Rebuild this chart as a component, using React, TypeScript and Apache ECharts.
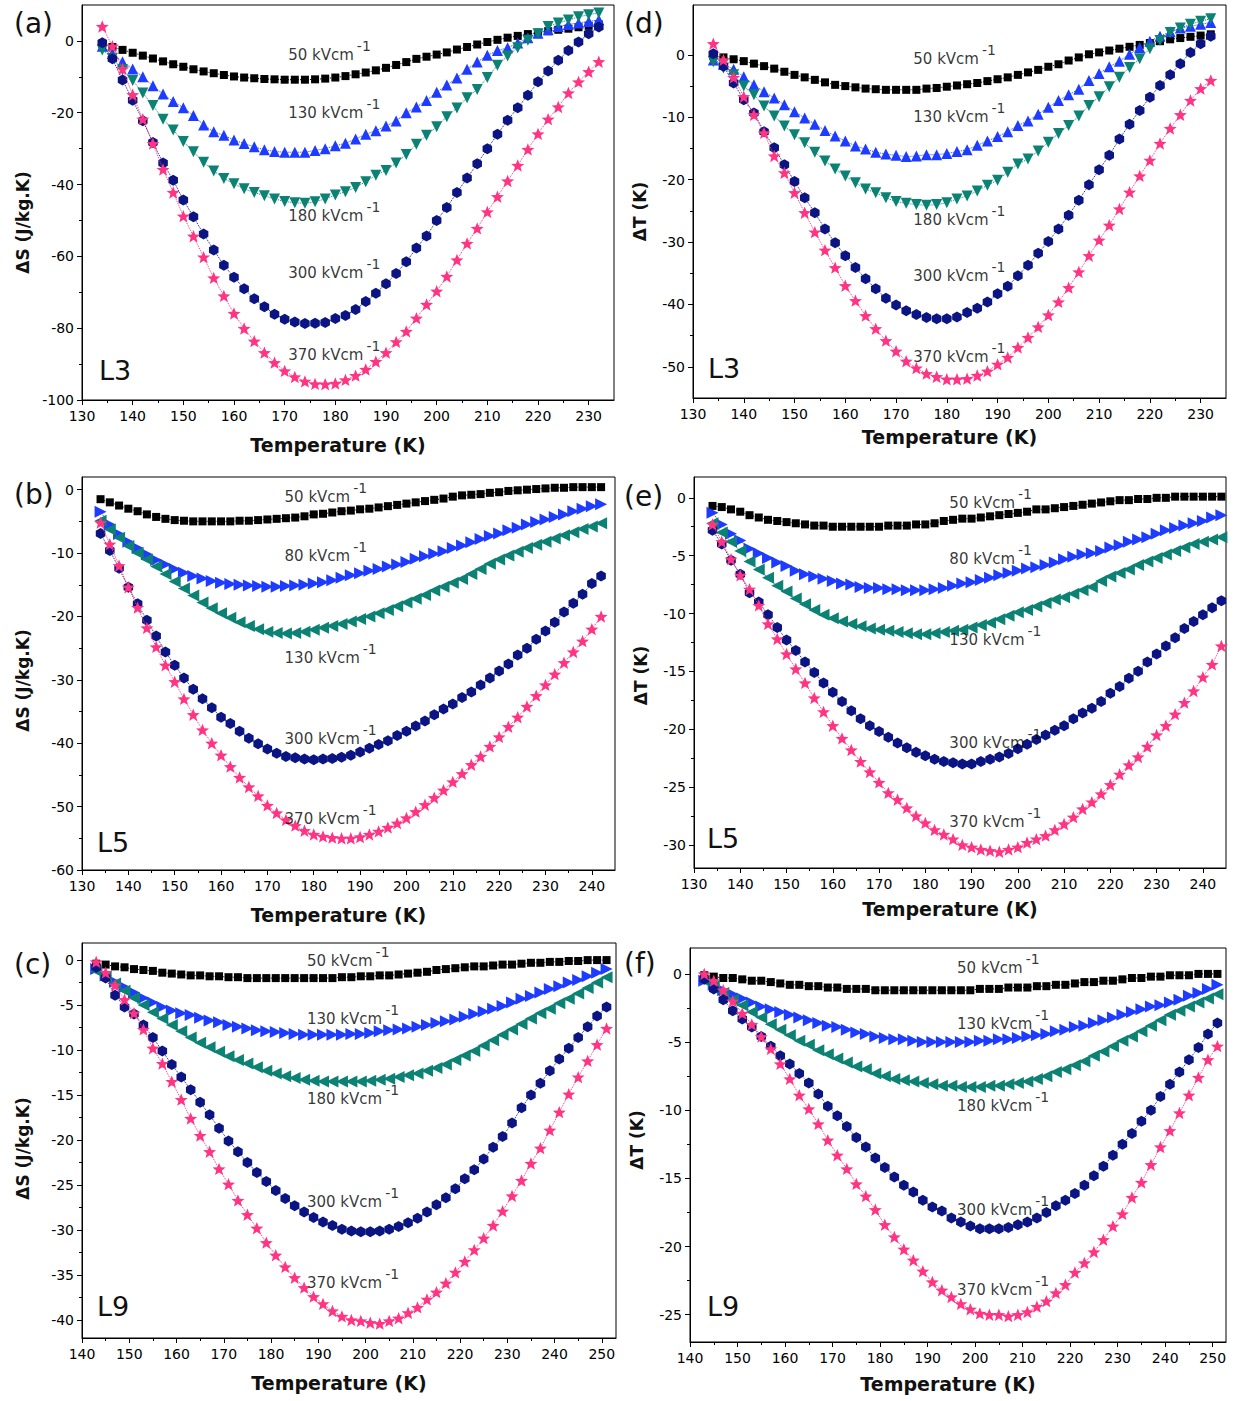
import React, { useEffect, useRef } from "react";
import * as echarts from "echarts";

// ---------- temperature grids (K) ----------
const steps = (start: number, count: number, step: number) =>
  Array.from({ length: count }, (_, i) => start + i * step);

const T_L3 = steps(134, 50, 2); // 134 … 232
const T_L5_S = steps(134, 55, 2); // 134 … 242
const T_L5_T = steps(134, 56, 2); // 134 … 244
const T_L9 = steps(143, 55, 2); // 143 … 251

// ---------- tick labels ----------
const xTicksL3 = [130, 140, 150, 160, 170, 180, 190, 200, 210, 220, 230];
const xTicksL5 = [130, 140, 150, 160, 170, 180, 190, 200, 210, 220, 230, 240];
const xTicksL9 = [140, 150, 160, 170, 180, 190, 200, 210, 220, 230, 240, 250];
const yTicksA = [-100, -80, -60, -40, -20, 0];
const yTicksD = [-50, -40, -30, -20, -10, 0];
const yTicksB = [-60, -50, -40, -30, -20, -10, 0];
const yTicksE = [-30, -25, -20, -15, -10, -5, 0];
const yTicksC = [-40, -35, -30, -25, -20, -15, -10, -5, 0];
const yTicksF = [-25, -20, -15, -10, -5, 0];

// ---------- L3 : entropy change ΔS (J/kg.K) ----------
const dS_L3_50 = [-0.8,-1.7,-2.5,-3.3,-4.1,-4.9,-5.7,-6.5,-7.2,-7.9,-8.5,-9.0,-9.5,-9.9,-10.2,-10.4,-10.6,-10.7,-10.8,-10.8,-10.8,-10.7,-10.5,-10.2,-9.8,-9.3,-8.8,-8.2,-7.5,-6.7,-5.9,-5.0,-4.4,-3.8,-3.2,-2.4,-1.7,-1.0,-0.3,0.3,0.9,1.4,1.9,2.3,2.7,3.1,3.4,3.8,4.2,4.6];
const dS_L3_130 = [-1.5,-3.5,-5.8,-7.8,-10.0,-12.5,-14.8,-16.9,-18.6,-20.8,-23.4,-25.3,-26.3,-27.6,-28.6,-29.5,-30.3,-30.8,-31.0,-31.0,-31.0,-30.5,-30.0,-29.2,-28.5,-27.3,-26.0,-25.0,-23.7,-22.3,-20.0,-18.4,-16.6,-14.3,-12.3,-10.3,-7.9,-5.9,-4.0,-2.7,-1.9,-0.6,0.9,2.1,3.1,4.0,4.6,5.0,5.4,5.9];
const dS_L3_180 = [-2.5,-4.8,-8.0,-11.0,-14.5,-18.0,-21.8,-24.8,-28.0,-30.9,-33.8,-36.2,-38.3,-39.8,-41.2,-42.2,-43.1,-44.0,-44.7,-45.1,-45.2,-44.8,-44.0,-42.9,-42.0,-40.8,-39.2,-37.4,-36.1,-34.0,-31.6,-28.8,-26.3,-23.9,-21.1,-18.7,-15.8,-13.5,-10.2,-6.8,-4.2,-1.9,0.2,2.0,4.0,5.0,5.8,6.7,7.3,7.8];
const dS_L3_300 = [-0.5,-5.0,-10.9,-16.5,-22.2,-28.3,-34.0,-38.8,-44.3,-49.0,-53.8,-58.2,-62.5,-65.8,-69.0,-71.8,-74.0,-76.1,-77.5,-78.3,-78.7,-78.6,-78.4,-77.3,-76.5,-74.8,-72.6,-70.3,-67.6,-64.8,-61.5,-57.7,-54.3,-50.0,-46.4,-42.2,-38.2,-34.2,-30.0,-26.0,-22.1,-18.6,-15.1,-11.4,-8.4,-5.4,-2.7,-0.3,2.0,3.9];
const dS_L3_370 = [4.0,-1.5,-7.8,-15.0,-21.8,-28.6,-35.8,-42.2,-48.8,-54.4,-60.2,-66.0,-71.0,-75.9,-80.1,-83.6,-86.8,-89.6,-91.9,-93.6,-94.8,-95.5,-95.6,-95.4,-94.4,-93.2,-91.5,-89.3,-86.8,-83.8,-80.9,-77.2,-73.4,-69.7,-65.6,-61.0,-56.4,-52.2,-47.6,-43.4,-39.0,-34.7,-30.2,-25.9,-21.8,-18.4,-14.5,-11.4,-8.6,-5.8];

// ---------- L3 : temperature change ΔT (K) ----------
const dT_L3_50 = [-0.2,-0.4,-0.7,-1.0,-1.4,-1.8,-2.2,-2.7,-3.2,-3.6,-4.0,-4.4,-4.8,-5.0,-5.2,-5.4,-5.5,-5.6,-5.6,-5.6,-5.6,-5.4,-5.3,-5.1,-4.9,-4.7,-4.5,-4.2,-3.9,-3.6,-3.2,-2.8,-2.4,-1.9,-1.5,-0.9,-0.4,0.1,0.4,0.7,1.0,1.3,1.6,1.9,2.2,2.5,2.7,2.9,3.1,3.3];
const dT_L3_130 = [-0.8,-1.5,-2.3,-3.5,-4.8,-5.9,-6.9,-8.0,-9.1,-10.1,-11.1,-12.1,-13.0,-13.8,-14.6,-15.1,-15.6,-15.9,-16.1,-16.3,-16.2,-16.0,-16.0,-15.8,-15.5,-15.2,-14.5,-13.8,-13.1,-12.3,-11.3,-10.6,-9.5,-8.4,-7.3,-6.4,-5.5,-4.1,-3.0,-1.9,-1.0,0.1,1.2,2.2,3.0,3.7,4.3,4.6,4.9,5.2];
const dT_L3_180 = [-1.1,-2.1,-3.2,-5.0,-6.4,-8.2,-9.8,-11.4,-12.8,-14.1,-15.6,-17.0,-18.3,-19.4,-20.5,-21.5,-22.1,-22.9,-23.5,-23.8,-24.0,-24.1,-24.0,-23.7,-23.1,-22.6,-21.8,-20.9,-20.1,-18.8,-17.5,-16.7,-15.4,-14.0,-12.6,-11.3,-9.8,-8.1,-6.7,-5.1,-3.6,-2.0,-0.6,1.0,2.3,3.6,4.3,4.9,5.4,5.8];
const dT_L3_300 = [0.2,-1.8,-4.5,-7.2,-9.3,-12.3,-14.9,-17.6,-20.3,-22.9,-25.3,-27.9,-30.1,-32.2,-34.1,-35.9,-37.5,-39.0,-40.1,-41.0,-41.6,-42.1,-42.3,-42.3,-42.0,-41.3,-40.6,-39.6,-38.3,-37.1,-35.4,-33.7,-31.8,-29.9,-27.9,-25.7,-23.3,-20.8,-18.4,-16.1,-13.5,-11.1,-8.9,-6.8,-4.9,-3.2,-1.4,0.4,1.8,3.0];
const dT_L3_370 = [1.8,-0.8,-3.6,-6.7,-9.6,-12.5,-16.2,-18.9,-22.1,-25.3,-28.4,-31.3,-34.1,-37.0,-39.4,-41.8,-43.9,-45.8,-47.5,-49.1,-50.2,-51.1,-51.6,-52.0,-52.0,-51.9,-51.4,-50.7,-49.6,-48.5,-46.9,-45.3,-43.6,-41.7,-39.6,-37.3,-34.8,-32.2,-29.7,-27.3,-24.7,-22.0,-19.4,-16.9,-14.2,-11.8,-9.6,-7.3,-5.4,-4.1];

// ---------- L5 : ΔS ----------
const dS_L5_50 = [-1.5,-2.0,-2.5,-3.0,-3.4,-3.9,-4.3,-4.6,-4.8,-4.9,-5.0,-5.0,-5.0,-5.0,-5.0,-4.9,-4.9,-4.8,-4.7,-4.6,-4.5,-4.4,-4.2,-3.9,-3.8,-3.6,-3.4,-3.3,-3.1,-3.0,-2.8,-2.6,-2.4,-2.2,-2.0,-1.8,-1.6,-1.4,-1.1,-0.9,-0.8,-0.7,-0.5,-0.4,-0.2,-0.1,0.0,0.1,0.2,0.3,0.3,0.4,0.4,0.4,0.4];
const dS_L5_80 = [-3.5,-5.5,-7.0,-8.2,-9.2,-10.2,-11.1,-11.8,-12.5,-13.1,-13.6,-14.0,-14.4,-14.7,-14.9,-15.0,-15.1,-15.2,-15.3,-15.3,-15.2,-15.1,-15.0,-14.8,-14.6,-14.3,-13.9,-13.5,-13.2,-12.8,-12.5,-12.1,-11.8,-11.4,-10.9,-10.5,-10.1,-9.7,-9.2,-8.8,-8.3,-7.8,-7.3,-6.9,-6.4,-6.0,-5.5,-5.1,-4.7,-4.3,-3.9,-3.4,-3.0,-2.6,-2.3];
const dS_L5_130 = [-4.9,-6.3,-7.6,-8.9,-10.0,-11.0,-12.1,-13.3,-14.5,-15.6,-16.7,-17.8,-18.7,-19.5,-20.2,-20.9,-21.5,-22.0,-22.4,-22.6,-22.7,-22.6,-22.4,-22.1,-21.8,-21.5,-21.2,-20.8,-20.4,-20.0,-19.5,-19.0,-18.4,-17.8,-17.2,-16.6,-15.9,-15.3,-14.7,-14.1,-13.3,-12.5,-11.7,-11.0,-10.4,-9.8,-9.2,-8.7,-8.2,-7.7,-7.2,-6.7,-6.2,-5.8,-5.3];
const dS_L5_300 = [-6.9,-9.6,-12.4,-15.4,-18.0,-20.6,-23.1,-25.6,-27.7,-29.7,-31.5,-33.0,-34.4,-35.9,-36.9,-38.1,-39.2,-40.1,-40.9,-41.6,-42.1,-42.3,-42.5,-42.6,-42.5,-42.4,-42.2,-41.9,-41.4,-40.8,-40.2,-39.6,-38.8,-38.1,-37.3,-36.5,-35.5,-34.6,-33.8,-32.8,-31.9,-30.8,-29.7,-28.6,-27.5,-26.1,-25.0,-23.6,-22.3,-20.9,-19.3,-17.9,-16.5,-14.8,-13.6];
const dS_L5_370 = [-5.2,-8.6,-12.0,-15.4,-18.6,-21.8,-24.8,-27.7,-30.3,-33.0,-35.5,-37.9,-40.0,-41.9,-43.7,-45.4,-46.9,-48.3,-49.8,-51.0,-52.1,-53.0,-53.8,-54.4,-54.7,-54.9,-55.0,-55.0,-54.8,-54.4,-53.9,-53.3,-52.6,-51.8,-50.8,-49.7,-48.6,-47.4,-46.1,-44.8,-43.4,-42.1,-40.5,-39.0,-37.4,-35.9,-34.2,-32.5,-30.8,-29.1,-27.3,-25.6,-23.9,-22.0,-20.0];

// ---------- L5 : ΔT ----------
const dT_L5_50 = [-0.7,-0.8,-1.0,-1.2,-1.5,-1.7,-1.9,-2.0,-2.1,-2.2,-2.3,-2.4,-2.4,-2.5,-2.5,-2.5,-2.5,-2.5,-2.5,-2.4,-2.4,-2.4,-2.3,-2.3,-2.2,-2.0,-1.9,-1.8,-1.8,-1.7,-1.6,-1.5,-1.4,-1.3,-1.2,-1.0,-1.0,-0.9,-0.8,-0.7,-0.6,-0.5,-0.4,-0.3,-0.2,-0.2,-0.1,-0.1,0.0,0.0,0.1,0.1,0.1,0.1,0.1,0.1];
const dT_L5_80 = [-1.3,-2.3,-3.1,-3.7,-4.4,-4.8,-5.2,-5.6,-5.9,-6.3,-6.6,-6.8,-7.0,-7.2,-7.4,-7.5,-7.7,-7.8,-7.8,-7.9,-7.9,-8.0,-8.0,-8.0,-7.9,-7.8,-7.6,-7.4,-7.3,-7.1,-6.9,-6.7,-6.5,-6.3,-6.1,-6.0,-5.8,-5.6,-5.3,-5.1,-4.9,-4.8,-4.6,-4.3,-4.1,-3.8,-3.6,-3.4,-3.1,-2.8,-2.6,-2.4,-2.2,-2.0,-1.7,-1.5];
const dT_L5_130 = [-2.2,-3.0,-3.8,-4.6,-5.5,-6.2,-6.9,-7.6,-8.1,-8.7,-9.2,-9.7,-10.1,-10.4,-10.7,-10.9,-11.1,-11.3,-11.4,-11.5,-11.6,-11.7,-11.8,-11.8,-11.7,-11.6,-11.5,-11.4,-11.2,-11.0,-10.8,-10.5,-10.2,-9.9,-9.7,-9.4,-9.1,-8.8,-8.6,-8.3,-8.0,-7.7,-7.2,-6.8,-6.5,-6.2,-5.8,-5.5,-5.2,-4.9,-4.6,-4.3,-4.0,-3.8,-3.6,-3.4];
const dT_L5_300 = [-2.8,-4.0,-5.4,-6.6,-8.2,-9.0,-10.1,-11.2,-12.3,-13.2,-14.2,-15.1,-16.0,-16.8,-17.6,-18.4,-19.1,-19.7,-20.2,-20.7,-21.2,-21.6,-22.0,-22.3,-22.6,-22.8,-22.9,-23.0,-23.0,-22.8,-22.6,-22.4,-22.1,-21.7,-21.3,-20.9,-20.5,-20.1,-19.7,-19.1,-18.6,-18.2,-17.6,-16.9,-16.3,-15.6,-15.0,-14.2,-13.5,-12.8,-12.1,-11.3,-10.7,-10.1,-9.5,-8.9];
const dT_L5_370 = [-2.3,-3.8,-5.3,-6.7,-7.9,-9.3,-10.9,-12.2,-13.5,-14.8,-16.0,-17.3,-18.5,-19.7,-20.8,-21.8,-22.8,-23.7,-24.6,-25.5,-26.1,-26.8,-27.5,-28.1,-28.7,-29.1,-29.5,-30.0,-30.2,-30.4,-30.5,-30.6,-30.4,-30.2,-29.8,-29.5,-29.2,-28.7,-28.2,-27.6,-26.9,-26.3,-25.6,-24.8,-23.9,-23.1,-22.4,-21.5,-20.5,-19.7,-18.7,-17.7,-16.7,-15.5,-14.4,-12.8];

// ---------- L9 : ΔS ----------
const dS_L9_50 = [-0.4,-0.5,-0.7,-0.8,-1.0,-1.1,-1.2,-1.4,-1.5,-1.6,-1.7,-1.7,-1.8,-1.8,-1.9,-1.9,-2.0,-2.0,-2.0,-2.0,-2.0,-2.0,-2.0,-2.0,-2.0,-2.0,-1.9,-1.9,-1.8,-1.8,-1.7,-1.7,-1.6,-1.5,-1.4,-1.3,-1.1,-1.0,-0.9,-0.8,-0.7,-0.7,-0.6,-0.5,-0.5,-0.4,-0.3,-0.3,-0.2,-0.2,-0.1,-0.1,0.0,0.0,0.0];
const dS_L9_130 = [-1.0,-1.7,-2.4,-3.0,-3.6,-4.2,-4.7,-5.2,-5.6,-5.9,-6.1,-6.4,-6.7,-6.9,-7.2,-7.4,-7.6,-7.8,-7.9,-8.0,-8.1,-8.2,-8.3,-8.3,-8.3,-8.3,-8.3,-8.2,-8.2,-8.1,-7.9,-7.8,-7.7,-7.6,-7.4,-7.2,-7.0,-6.8,-6.6,-6.3,-6.0,-5.7,-5.4,-5.1,-4.7,-4.3,-4.0,-3.6,-3.2,-2.9,-2.5,-2.2,-1.8,-1.4,-1.0];
const dS_L9_180 = [-1.2,-1.8,-2.6,-3.4,-4.2,-5.0,-5.8,-6.5,-7.2,-7.9,-8.6,-9.2,-9.7,-10.2,-10.7,-11.1,-11.5,-11.9,-12.3,-12.6,-12.9,-13.1,-13.3,-13.4,-13.5,-13.5,-13.5,-13.5,-13.5,-13.4,-13.3,-13.2,-13.0,-12.8,-12.6,-12.3,-12.0,-11.6,-11.1,-10.6,-10.1,-9.5,-8.9,-8.3,-7.7,-7.1,-6.5,-5.9,-5.4,-4.8,-4.3,-3.7,-3.1,-2.5,-1.9];
const dS_L9_300 = [-0.8,-2.0,-3.9,-5.2,-6.0,-7.2,-8.6,-10.1,-11.6,-13.0,-14.4,-15.8,-17.2,-18.7,-20.1,-21.3,-22.5,-23.6,-24.6,-25.6,-26.5,-27.3,-28.0,-28.6,-29.1,-29.5,-29.9,-30.1,-30.2,-30.2,-30.1,-29.9,-29.6,-29.2,-28.7,-28.0,-27.2,-26.4,-25.4,-24.3,-23.3,-22.1,-20.8,-19.6,-18.1,-16.4,-15.0,-13.7,-12.3,-11.0,-9.8,-8.6,-7.4,-6.2,-5.2];
const dS_L9_370 = [-0.2,-1.4,-2.8,-4.4,-5.9,-7.7,-9.8,-11.5,-13.5,-15.5,-17.6,-19.5,-21.3,-23.2,-24.9,-26.7,-28.3,-29.8,-31.4,-32.8,-34.1,-35.3,-36.4,-37.4,-38.2,-39.0,-39.6,-40.0,-40.1,-40.3,-40.4,-40.1,-39.8,-39.2,-38.6,-37.7,-36.9,-35.9,-34.7,-33.5,-32.2,-30.9,-29.5,-27.9,-26.2,-24.5,-22.6,-20.9,-18.9,-16.9,-14.9,-13.0,-11.2,-9.4,-7.6];

// ---------- L9 : ΔT ----------
const dT_L9_50 = [-0.1,-0.2,-0.3,-0.3,-0.4,-0.5,-0.5,-0.6,-0.7,-0.8,-0.8,-0.9,-0.9,-1.0,-1.0,-1.1,-1.1,-1.1,-1.2,-1.2,-1.2,-1.2,-1.2,-1.2,-1.2,-1.2,-1.2,-1.2,-1.2,-1.1,-1.1,-1.1,-1.0,-1.0,-1.0,-0.9,-0.9,-0.8,-0.8,-0.7,-0.6,-0.6,-0.5,-0.5,-0.4,-0.3,-0.3,-0.2,-0.2,-0.1,-0.1,-0.1,0.0,0.0,0.0];
const dT_L9_130 = [-0.5,-0.8,-1.2,-1.5,-1.8,-2.1,-2.4,-2.6,-2.8,-3.0,-3.2,-3.4,-3.6,-3.8,-3.9,-4.1,-4.3,-4.4,-4.6,-4.7,-4.8,-4.8,-4.9,-5.0,-5.0,-5.0,-5.0,-5.0,-5.0,-4.9,-4.9,-4.8,-4.8,-4.7,-4.6,-4.5,-4.4,-4.2,-4.1,-3.9,-3.8,-3.6,-3.4,-3.2,-3.0,-2.8,-2.6,-2.4,-2.3,-2.1,-1.9,-1.6,-1.4,-1.1,-0.8];
const dT_L9_180 = [-0.5,-0.9,-1.4,-1.9,-2.3,-2.8,-3.2,-3.7,-4.1,-4.5,-4.9,-5.2,-5.6,-5.9,-6.2,-6.5,-6.8,-7.0,-7.3,-7.5,-7.7,-7.8,-7.9,-8.0,-8.1,-8.2,-8.2,-8.3,-8.3,-8.3,-8.2,-8.2,-8.1,-8.0,-7.9,-7.7,-7.5,-7.2,-7.0,-6.7,-6.4,-6.0,-5.7,-5.3,-4.9,-4.6,-4.2,-3.8,-3.4,-3.0,-2.7,-2.4,-2.1,-1.8,-1.5];
const dT_L9_300 = [-0.4,-1.1,-1.9,-2.7,-3.3,-3.9,-4.6,-5.3,-6.0,-6.6,-7.3,-8.0,-8.8,-9.7,-10.4,-11.2,-12.0,-12.7,-13.5,-14.2,-14.9,-15.5,-16.0,-16.6,-17.1,-17.4,-17.9,-18.2,-18.5,-18.7,-18.7,-18.7,-18.6,-18.4,-18.2,-17.9,-17.5,-17.0,-16.6,-16.1,-15.5,-14.8,-14.1,-13.3,-12.5,-11.7,-10.8,-10.0,-9.0,-8.1,-7.2,-6.3,-5.4,-4.4,-3.6];
const dT_L9_370 = [0.0,-0.5,-1.2,-2.0,-2.9,-3.7,-4.6,-5.5,-6.6,-7.7,-8.9,-9.9,-11.0,-12.2,-13.3,-14.3,-15.4,-16.3,-17.3,-18.4,-19.3,-20.2,-21.0,-21.8,-22.6,-23.2,-23.7,-24.2,-24.6,-24.9,-25.0,-25.0,-25.1,-25.0,-24.8,-24.4,-24.0,-23.4,-22.8,-21.9,-21.2,-20.4,-19.5,-18.5,-17.6,-16.4,-15.3,-14.0,-12.7,-11.5,-10.2,-8.9,-7.6,-6.3,-5.3];

// ---------- styling ----------
const FONT = '"DejaVu Sans", Verdana, sans-serif';
const C_BLACK = "#000000";
const C_BLUE = "#1e3cff";
const C_TEAL = "#0b8274";
const C_NAVY = "#0a1482";
const C_PINK = "#ff3482";

const HEX = "path://M0,-10 L8.66,-5 L8.66,5 L0,10 L-8.66,5 L-8.66,-5 Z";
const STAR =
  "path://M0,-10 L2.6,-3.4 L9.51,-3.09 L4.1,1.3 L5.88,8.09 L0,4.3 L-5.88,8.09 L-4.1,1.3 L-9.51,-3.09 L-2.6,-3.4 Z";

type Kind = "sq" | "up" | "down" | "right" | "left" | "hex" | "star";
const MARKERS: Record<Kind, { symbol: string; size: number; rotate: number }> = {
  sq: { symbol: "rect", size: 8, rotate: 0 },
  up: { symbol: "triangle", size: 11, rotate: 0 },
  down: { symbol: "triangle", size: 11, rotate: 180 },
  right: { symbol: "triangle", size: 12, rotate: -90 },
  left: { symbol: "triangle", size: 12, rotate: 90 },
  hex: { symbol: HEX, size: 11, rotate: 0 },
  star: { symbol: STAR, size: 13, rotate: 0 },
};

interface Curve { field: number; values: number[]; kind: Kind; color: string }
interface Panel {
  tag: string;
  sample: string;
  rect: { left: number; top: number; width: number; height: number };
  xRange: [number, number];
  yRange: [number, number];
  xTicks: number[];
  yTicks: number[];
  xMinor: number[];
  yMinor: number[];
  yName: string;
  xNameGap: number;
  yNameGap: number;
  yNameShift: number; // downward shift of the rotated y title, px
  temps: number[];
  curves: Curve[];
  labelAt: [number, number][];
  tagPos: [number, number];
  samplePos: [number, number];
}

// minor ticks sit half-way between labelled ticks
const between = (ticks: number[]) => ticks.slice(1).map((v, i) => (v + ticks[i]) / 2);

const panels: Panel[] = [
  {
    tag: "(a)", sample: "L3",
    rect: { left: 82, top: 5, width: 532, height: 395 },
    xRange: [130, 235], yRange: [-100, 10],
    xTicks: xTicksL3, yTicks: yTicksA,
    xMinor: between(xTicksL3), yMinor: between(yTicksA),
    yName: "ΔS (J/kg.K)", xNameGap: 35, yNameGap: 51, yNameShift: 20,
    temps: T_L3,
    curves: [
      { field: 50, values: dS_L3_50, kind: "sq", color: C_BLACK },
      { field: 130, values: dS_L3_130, kind: "up", color: C_BLUE },
      { field: 180, values: dS_L3_180, kind: "down", color: C_TEAL },
      { field: 300, values: dS_L3_300, kind: "hex", color: C_NAVY },
      { field: 370, values: dS_L3_370, kind: "star", color: C_PINK },
    ],
    labelAt: [[170.7, -3.9], [170.7, -20], [170.7, -48.7], [170.7, -64.7], [170.7, -87.4]],
    tagPos: [14, 23], samplePos: [99, 370],
  },
  {
    tag: "(d)", sample: "L3",
    rect: { left: 693, top: 5, width: 533, height: 393 },
    xRange: [130, 235], yRange: [-55, 8],
    xTicks: xTicksL3, yTicks: yTicksD,
    xMinor: between(xTicksL3), yMinor: between(yTicksD),
    yName: "ΔT (K)", xNameGap: 29, yNameGap: 45, yNameShift: 10,
    temps: T_L3,
    curves: [
      { field: 50, values: dT_L3_50, kind: "sq", color: C_BLACK },
      { field: 130, values: dT_L3_130, kind: "up", color: C_BLUE },
      { field: 180, values: dT_L3_180, kind: "down", color: C_TEAL },
      { field: 300, values: dT_L3_300, kind: "hex", color: C_NAVY },
      { field: 370, values: dT_L3_370, kind: "star", color: C_PINK },
    ],
    labelAt: [[173.4, -0.7], [173.4, -9.9], [173.4, -26.4], [173.4, -35.4], [173.4, -48.4]],
    tagPos: [624, 23], samplePos: [708, 368],
  },
  {
    tag: "(b)", sample: "L5",
    rect: { left: 82, top: 477, width: 533, height: 393 },
    xRange: [130, 245], yRange: [-60, 2],
    xTicks: xTicksL5, yTicks: yTicksB,
    xMinor: between(xTicksL5), yMinor: between(yTicksB),
    yName: "ΔS (J/kg.K)", xNameGap: 35, yNameGap: 51, yNameShift: 7,
    temps: T_L5_S,
    curves: [
      { field: 50, values: dS_L5_50, kind: "sq", color: C_BLACK },
      { field: 80, values: dS_L5_80, kind: "right", color: C_BLUE },
      { field: 130, values: dS_L5_130, kind: "left", color: C_TEAL },
      { field: 300, values: dS_L5_300, kind: "hex", color: C_NAVY },
      { field: 370, values: dS_L5_370, kind: "star", color: C_PINK },
    ],
    labelAt: [[173.7, -1.1], [173.7, -10.4], [173.7, -26.6], [173.7, -39.3], [173.7, -51.9]],
    tagPos: [14, 494], samplePos: [97, 842],
  },
  {
    tag: "(e)", sample: "L5",
    rect: { left: 694, top: 477, width: 532, height: 391 },
    xRange: [130, 245], yRange: [-32, 1.8],
    xTicks: xTicksL5, yTicks: yTicksE,
    xMinor: between(xTicksL5), yMinor: between(yTicksE),
    yName: "ΔT (K)", xNameGap: 31, yNameGap: 45, yNameShift: 3,
    temps: T_L5_T,
    curves: [
      { field: 50, values: dT_L5_50, kind: "sq", color: C_BLACK },
      { field: 80, values: dT_L5_80, kind: "right", color: C_BLUE },
      { field: 130, values: dT_L5_130, kind: "left", color: C_TEAL },
      { field: 300, values: dT_L5_300, kind: "hex", color: C_NAVY },
      { field: 370, values: dT_L5_370, kind: "star", color: C_PINK },
    ],
    labelAt: [[185.2, -0.45], [185.2, -5.3], [185.2, -12.3], [185.2, -21.2], [185.2, -28.0]],
    tagPos: [624, 496], samplePos: [707, 838],
  },
  {
    tag: "(c)", sample: "L9",
    rect: { left: 82, top: 943, width: 534, height: 395 },
    xRange: [140, 253], yRange: [-42, 1.9],
    xTicks: xTicksL9, yTicks: yTicksC,
    xMinor: between(xTicksL9), yMinor: between(yTicksC),
    yName: "ΔS (J/kg.K)", xNameGap: 35, yNameGap: 51, yNameShift: 8,
    temps: T_L9,
    curves: [
      { field: 50, values: dS_L9_50, kind: "sq", color: C_BLACK },
      { field: 130, values: dS_L9_130, kind: "right", color: C_BLUE },
      { field: 180, values: dS_L9_180, kind: "left", color: C_TEAL },
      { field: 300, values: dS_L9_300, kind: "hex", color: C_NAVY },
      { field: 370, values: dS_L9_370, kind: "star", color: C_PINK },
    ],
    labelAt: [[187.6, -0.1], [187.6, -6.6], [187.6, -15.4], [187.6, -26.9], [187.6, -35.9]],
    tagPos: [14, 964], samplePos: [97, 1306],
  },
  {
    tag: "(f)", sample: "L9",
    rect: { left: 690, top: 948, width: 536, height: 394 },
    xRange: [140, 252.8], yRange: [-27, 1.9],
    xTicks: xTicksL9, yTicks: yTicksF,
    xMinor: between(xTicksL9), yMinor: between(yTicksF),
    yName: "ΔT (K)", xNameGap: 32, yNameGap: 45, yNameShift: -5,
    temps: T_L9,
    curves: [
      { field: 50, values: dT_L9_50, kind: "sq", color: C_BLACK },
      { field: 130, values: dT_L9_130, kind: "right", color: C_BLUE },
      { field: 180, values: dT_L9_180, kind: "left", color: C_TEAL },
      { field: 300, values: dT_L9_300, kind: "hex", color: C_NAVY },
      { field: 370, values: dT_L9_370, kind: "star", color: C_PINK },
    ],
    labelAt: [[196.2, 0.45], [196.2, -3.7], [196.2, -9.7], [196.2, -17.3], [196.2, -23.2]],
    tagPos: [624, 963], samplePos: [707, 1306],
  },
];

function buildOption(): echarts.EChartsOption {
  const grid: any[] = [];
  const xAxis: any[] = [];
  const yAxis: any[] = [];
  const series: any[] = [];
  const graphic: any[] = [];

  panels.forEach((p, i) => {
    const main = 2 * i;
    const minor = 2 * i + 1;
    const rect = { left: p.rect.left, top: p.rect.top, width: p.rect.width, height: p.rect.height };
    grid.push({ ...rect, show: true, borderColor: "#000", borderWidth: 1, backgroundColor: "transparent" });
    grid.push({ ...rect, show: false });

    const tickLabel = { fontFamily: FONT, fontSize: 14, color: "#000" };
    // the rotated title reads bottom-to-top, so right padding moves it down the axis
    const yPad = p.yNameShift >= 0 ? [0, 2 * p.yNameShift, 0, 0] : [0, 0, 0, -2 * p.yNameShift];

    xAxis.push({
      gridIndex: main, type: "value", min: p.xRange[0], max: p.xRange[1],
      name: "Temperature (K)", nameLocation: "middle", nameGap: p.xNameGap,
      nameTextStyle: { fontFamily: FONT, fontSize: 19, fontWeight: "bold", color: "#111", padding: [0, 20, 0, 0] },
      axisLine: { show: true, onZero: false, lineStyle: { color: "#000", width: 1 } },
      axisTick: { show: true, length: 5, customValues: p.xTicks, lineStyle: { color: "#000" } },
      axisLabel: { ...tickLabel, margin: 9, customValues: p.xTicks },
      splitLine: { show: false },
    });
    xAxis.push({
      gridIndex: minor, type: "value", min: p.xRange[0], max: p.xRange[1],
      axisLine: { show: false, onZero: false },
      axisTick: { show: true, length: 3, customValues: p.xMinor, lineStyle: { color: "#000" } },
      axisLabel: { show: false }, splitLine: { show: false },
    });
    yAxis.push({
      gridIndex: main, type: "value", min: p.yRange[0], max: p.yRange[1],
      name: p.yName, nameLocation: "middle", nameGap: p.yNameGap, nameRotate: 90,
      nameTextStyle: { fontFamily: FONT, fontSize: 17, fontWeight: "bold", color: "#111", padding: yPad },
      axisLine: { show: true, onZero: false, lineStyle: { color: "#000", width: 1 } },
      axisTick: { show: true, length: 5, customValues: p.yTicks, lineStyle: { color: "#000" } },
      axisLabel: { ...tickLabel, margin: 8, customValues: p.yTicks },
      splitLine: { show: false },
    });
    yAxis.push({
      gridIndex: minor, type: "value", min: p.yRange[0], max: p.yRange[1],
      axisLine: { show: false, onZero: false },
      axisTick: { show: true, length: 3, customValues: p.yMinor, lineStyle: { color: "#000" } },
      axisLabel: { show: false }, splitLine: { show: false },
    });

    p.curves.forEach((c, k) => {
      const m = MARKERS[c.kind];
      series.push({
        type: "line",
        name: `${p.tag} ${c.field}`,
        xAxisIndex: main, yAxisIndex: main,
        data: p.temps.map((t, j) => [t, c.values[j]]),
        symbol: m.symbol, symbolSize: m.size, symbolRotate: m.rotate, symbolKeepAspect: true,
        showSymbol: true, showAllSymbol: true,
        itemStyle: { color: c.color, borderWidth: 0 },
        lineStyle: { color: c.color, width: 1, type: "dotted" },
        silent: true, clip: true, z: 2 + k,
      });
    });

    series.push({
      type: "scatter",
      xAxisIndex: main, yAxisIndex: main,
      symbolSize: 0, silent: true, z: 20,
      data: p.curves.map((c, k) => ({
        value: p.labelAt[k],
        label: { formatter: `{m|${c.field} kVcm}{s|-1}` },
      })),
      label: {
        show: true, position: "right", distance: 0,
        rich: {
          m: { fontFamily: FONT, fontSize: 15, color: "#000" },
          s: { fontFamily: FONT, fontSize: 14, color: "#000", padding: [0, 0, 18, 3] },
        },
      },
    });

    graphic.push({
      type: "text", x: p.tagPos[0], y: p.tagPos[1],
      style: { text: p.tag, font: `28px ${FONT}`, fill: "#111", textVerticalAlign: "middle" },
      silent: true,
    });
    graphic.push({
      type: "text", x: p.samplePos[0], y: p.samplePos[1],
      style: { text: p.sample, font: `27px ${FONT}`, fill: "#111", textVerticalAlign: "middle" },
      silent: true,
    });
  });

  return { animation: false, backgroundColor: "#fff", grid, xAxis, yAxis, series, graphic };
}

export default function App() {
  const ref = useRef<HTMLDivElement>(null);
  useEffect(() => {
    if (!ref.current) return;
    const chart = echarts.init(ref.current, undefined, { renderer: "svg" });
    chart.setOption(buildOption());
    return () => chart.dispose();
  }, []);
  return (
    <div
      ref={ref}
      style={{ position: "absolute", left: 0, top: 0, width: 1235, height: 1401, background: "#fff" }}
    />
  );
}
